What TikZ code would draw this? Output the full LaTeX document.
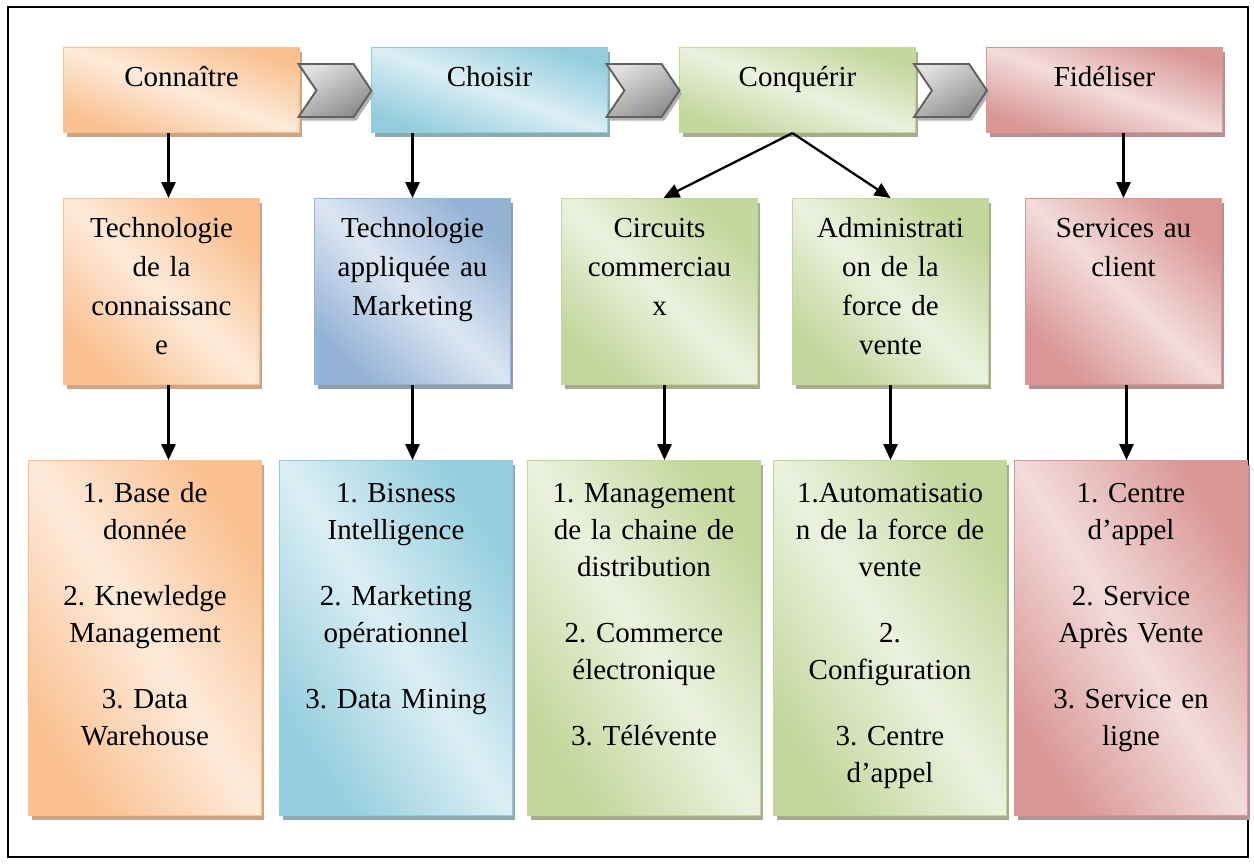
\documentclass[tikz,border=0pt]{standalone}
\usepackage{fontspec}
\setmainfont{Liberation Serif}
\frenchspacing
\usetikzlibrary{arrows.meta,shadows,shapes.symbols,calc}

\definecolor{orgdark}{HTML}{FAC090}
\definecolor{orglight}{HTML}{FDEADA}
\definecolor{orgshade}{HTML}{CCA587}
\definecolor{tealdark}{HTML}{93CDDD}
\definecolor{teallight}{HTML}{DBEEF4}
\definecolor{tealshade}{HTML}{8FA9B3}
\definecolor{bluedark}{HTML}{95B3D7}
\definecolor{bluelight}{HTML}{DCE6F2}
\definecolor{blueshade}{HTML}{8F9CAB}
\definecolor{grndark}{HTML}{C3D69B}
\definecolor{grnlight}{HTML}{EBF1DE}
\definecolor{grnshade}{HTML}{A5AD8D}
\definecolor{reddark}{HTML}{D99694}
\definecolor{redlight}{HTML}{F2DCDB}
\definecolor{redshade}{HTML}{B59292}

\tikzset{
  stagebox/.style n args={3}{draw=#1, line width=0.6pt, inner sep=0pt, align=center,
    anchor=north west, top color=#1, bottom color=#1, middle color=#2,
    drop shadow={shadow xshift=1.7pt, shadow yshift=-2.8pt, fill=#3, opacity=1}},
  toprow/.style={text width=4.72cm, text height=22pt, text depth=26.4pt, shading angle=-20,
    font=\fontsize{16.5pt}{22pt}\selectfont},
  midrow/.style={text width=3.92cm, text height=22pt, text depth=83.8pt, shading angle=-43.5,
    font=\fontsize{16.5pt}{22.2pt}\selectfont},
  botrow/.style={text width=4.66cm, text height=24pt, text depth=178pt, shading angle=-57,
    font=\fontsize{16.5pt}{21pt}\selectfont},
  chev/.style={shape=signal, signal from=west, signal to=east, signal pointer angle=112,
    minimum width=1.46cm, minimum height=1.06cm, inner sep=0pt,
    draw=black!62, line width=1.1pt, top color=black!12, bottom color=black!45,
    shading angle=30, drop shadow={shadow xshift=1.5pt, shadow yshift=-2pt, fill=black!30, opacity=1}},
  arr/.style={-{Triangle[length=9pt,width=8pt]}, line width=1.3pt}
}

\begin{document}
\begin{tikzpicture}[x=0.02cm, y=-0.02cm]
  \useasboundingbox (0,0) rectangle (1254,864);
  \draw[line width=1.1pt] (8,7) rectangle (1248,857);

  % etapes
  \node[stagebox={orgdark}{orglight}{orgshade}, toprow] (con) at (63,47) {Connaître};
  \node[stagebox={tealdark}{teallight}{tealshade}, toprow] (cho) at (371,47) {Choisir};
  \node[stagebox={grndark}{grnlight}{grnshade}, toprow] (conq) at (679,47) {Conquérir};
  \node[stagebox={reddark}{redlight}{redshade}, toprow] (fid) at (986,47) {Fidéliser};

  \node[chev] (ch1) at (335,90.5) {};
  \node[chev] (ch2) at (643,90.5) {};
  \node[chev] (ch3) at (950.5,90.5) {};

  % technologies
  \node[stagebox={orgdark}{orglight}{orgshade}, midrow] (t1) at (63,198)
    {Technologie\\de la\\connaissanc\\e};
  \node[stagebox={bluedark}{bluelight}{blueshade}, midrow] (t2) at (314,198)
    {Technologie\\appliquée au\\Marketing};
  \node[stagebox={grndark}{grnlight}{grnshade}, midrow] (t3) at (561,198)
    {Circuits\\commerciau\\x};
  \node[stagebox={grndark}{grnlight}{grnshade}, midrow] (t4) at (792,198)
    {Administrati\\on de la\\force de\\vente};
  \node[stagebox={reddark}{redlight}{redshade}, midrow] (t5) at (1025,198)
    {Services au\\client};

  % outils
  \node[stagebox={orgdark}{orglight}{orgshade}, botrow] (b1) at (28,460)
    {1. Base de\\donnée\\[16.5pt]2. Knewledge\\Management\\[16.5pt]3. Data\\Warehouse};
  \node[stagebox={tealdark}{teallight}{tealshade}, botrow] (b2) at (279,460)
    {1. Bisness\\Intelligence\\[16.5pt]2. Marketing\\opérationnel\\[16.5pt]3. Data Mining};
  \node[stagebox={grndark}{grnlight}{grnshade}, botrow] (b3) at (527,460)
    {1. Management\\de la chaine de\\distribution\\[16.5pt]2. Commerce\\électronique\\[16.5pt]3. Télévente};
  \node[stagebox={grndark}{grnlight}{grnshade}, botrow] (b4) at (773,460)
    {1.Automatisatio\\n de la force de\\vente\\[16.5pt]2.\\Configuration\\[16.5pt]3. Centre\\d’appel};
  \node[stagebox={reddark}{redlight}{redshade}, botrow] (b5) at (1014,460)
    {1. Centre\\d’appel\\[16.5pt]2. Service\\Après Vente\\[16.5pt]3. Service en\\ligne};

  \draw[arr] ($(t1.north |- con.south)+(7,0)$) -- ($(t1.north)+(7,0)$);
  \draw[arr] (cho.south -| t2.north) -- (t2.north);
  \draw[arr] ($(conq.south)+(-5,0)$) -- ($(t3.north)+(4,0)$);
  \draw[arr] ($(conq.south)+(-5,0)$) -- (t4.north);
  \draw[arr] (fid.south -| t5.north) -- (t5.north);

  \draw[arr] ($(t1.south)+(7,0)$) -- ($(t1.south |- b1.north)+(7,0)$);
  \draw[arr] (t2.south) -- (t2.south |- b2.north);
  \draw[arr] ($(t3.south)+(5,0)$) -- ($(t3.south |- b3.north)+(5,0)$);
  \draw[arr] (t4.south) -- (t4.south |- b4.north);
  \draw[arr] ($(t5.south)+(3,0)$) -- ($(t5.south |- b5.north)+(3,0)$);
\end{tikzpicture}
\end{document}
